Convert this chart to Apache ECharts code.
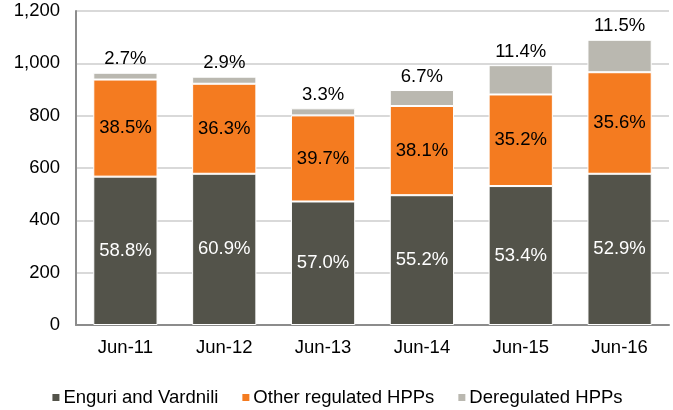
<!DOCTYPE html>
<html>
<head>
<meta charset="utf-8">
<script src="https://cdn.jsdelivr.net/npm/echarts@6/dist/echarts.min.js"></script>
<style>
  html, body { margin: 0; padding: 0; background: #fff; }
  #chart { width: 673px; height: 410px; }
</style>
</head>
<body>
<div id="chart"></div>
<script>
const categories = ['Jun-11', 'Jun-12', 'Jun-13', 'Jun-14', 'Jun-15', 'Jun-16']
const enguri = [567, 578, 472, 496, 531, 578]
const otherRegulated = [371, 344, 329, 341, 350, 388]
const deregulated = [26, 27, 27, 61, 112, 124]
const enguriLabels = ['58.8%', '60.9%', '57.0%', '55.2%', '53.4%', '52.9%']
const otherLabels = ['38.5%', '36.3%', '39.7%', '38.1%', '35.2%', '35.6%']
const deregLabels = ['2.7%', '2.9%', '3.3%', '6.7%', '11.4%', '11.5%']

const font = 'Liberation Sans, Arial, sans-serif'
const chart = echarts.init(document.getElementById('chart'))

function seg(name, data, labels, color, labelColor, position) {
  return {
    name: name,
    type: 'bar',
    stack: 'total',
    barWidth: '65%',
    data: data,
    itemStyle: { color: color, borderColor: '#fff', borderWidth: 1 },
    label: {
      show: true,
      position: position,
      distance: 4,
      color: labelColor,
      fontFamily: font,
      fontSize: 18.5,
      formatter: p => labels[p.dataIndex]
    },
    emphasis: { disabled: true },
    animation: false
  }
}

chart.setOption({
  animation: false,
  grid: { left: 76, right: 4, top: 11, bottom: 85 },
  legend: {
    bottom: -2,
    left: 'center',
    itemWidth: 9,
    itemHeight: 9,
    itemGap: 22,
    icon: 'rect',
    textStyle: { fontFamily: font, fontSize: 18.5, color: '#000', padding: [0, 0, 0, -2] },
    data: ['Enguri and Vardnili', 'Other regulated HPPs', 'Deregulated HPPs']
  },
  xAxis: {
    type: 'category',
    data: categories,
    axisLine: { lineStyle: { color: '#8c8c8c', width: 2 } },
    axisTick: { show: false },
    axisLabel: { color: '#000', fontFamily: font, fontSize: 18.5, margin: 13 }
  },
  yAxis: {
    type: 'value',
    min: 0,
    max: 1200,
    interval: 200,
    axisLine: { show: true, lineStyle: { color: '#8c8c8c', width: 2 } },
    axisTick: { show: false },
    splitLine: { lineStyle: { color: '#d9d9d9', width: 2 } },
    axisLabel: {
      color: '#000',
      fontFamily: font,
      fontSize: 18.5,
      margin: 16,
      formatter: v => v.toLocaleString('en-US')
    }
  },
  series: [
    seg('Enguri and Vardnili', enguri, enguriLabels, '#53534a', '#fff', 'inside'),
    seg('Other regulated HPPs', otherRegulated, otherLabels, '#f47b20', '#000', 'inside'),
    seg('Deregulated HPPs', deregulated, deregLabels, '#bab8b0', '#000', 'top')
  ]
})
</script>
</body>
</html>
